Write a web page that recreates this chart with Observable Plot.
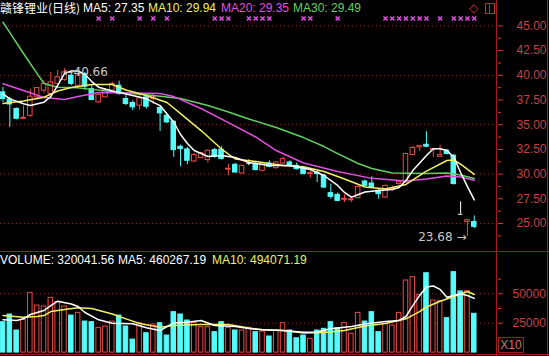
<!DOCTYPE html>
<html><head><meta charset="utf-8">
<script src="https://cdn.jsdelivr.net/npm/d3@7"></script>
<script src="https://cdn.jsdelivr.net/npm/@observablehq/plot@0.6"></script>
<style>
body{margin:0;background:#000;}
#wrap{position:relative;width:549px;height:356px;background:#000;overflow:hidden;font-family:"Liberation Sans",Arial,sans-serif;font-size:12px;}
.t{position:absolute;white-space:nowrap;line-height:14px;}
.ln{position:absolute;background:#a01e1e;}
</style></head><body>
<div id="wrap">
  <div id="price" style="position:absolute;left:0;top:0"></div>
  <div id="vol" style="position:absolute;left:0;top:252px"></div>
  <div class="ln" style="left:496px;top:0;width:1px;height:356px"></div>
  <div class="ln" style="left:547px;top:0;width:1px;height:356px"></div>
  <div class="ln" style="left:0;top:251px;width:549px;height:1px"></div>
  <div class="ln" style="left:0;top:354px;width:549px;height:1px"></div>
  <div id="hdr"></div>
</div>
<script>
// ---- data ----
const stockName = "赣锋锂业(日线)";
const maNames = ["MA5", "MA10", "MA20", "MA30"];
const maLast = [27.35, 29.94, 29.35, 29.49];
const volNames = ["VOLUME", "MA5", "MA10"];
const volLast = [320041.56, 460267.19, 494071.19];

const open  = [38.28,37.55,36.6,35.6,35.9,37.77,38.45,38.11,39.13,39.53,39.97,38.95,40.1,38.61,37.26,37.77,38.45,38.95,37.6,37.2,36.93,37.77,37.6,36.69,35.91,35.3,32.77,32.5,31.28,31.62,31.42,32.43,32.47,30.45,30.94,30.06,31.1,31.01,30.33,31.07,30.6,31.07,31.18,30.84,30.57,30.0,30.16,29.83,28.07,27.9,27.4,27.35,27.57,29.25,29.05,28.31,27.63,28.45,28.99,29.15,31.93,32.7,32.97,32.45,31.75,32.36,31.86,25.94,25.16,25.16];
const high  = [38.78,37.77,36.7,36.9,38.6,38.75,39.46,40.3,40.48,40.66,40.3,40.3,40.3,38.95,38.1,38.6,39.3,39.4,37.94,37.43,37.94,37.94,38.18,36.93,36.1,35.4,32.94,32.7,32.1,32.2,32.45,32.6,32.77,31.0,31.1,30.9,31.45,31.2,31.15,31.35,31.25,31.7,31.35,31.1,30.7,30.3,30.3,30.0,28.99,28.1,27.9,27.65,28.8,29.4,29.73,28.4,28.9,28.8,29.3,32.1,32.8,32.9,34.29,32.6,32.94,32.5,32.0,27.2,25.44,25.77];
const low   = [37.26,34.73,35.5,35.55,35.74,37.5,38.18,37.6,38.97,39.4,38.95,38.8,38.45,37.43,37.2,37.7,38.3,38.0,36.93,36.42,36.49,36.6,37.03,34.32,35.1,31.7,30.74,30.95,31.2,31.55,31.1,31.6,31.42,29.83,30.1,30.0,30.85,30.35,30.25,30.65,30.5,31.0,30.7,30.4,29.95,29.6,29.15,28.55,27.46,27.2,27.12,27.1,27.5,28.7,28.55,27.46,27.55,28.25,28.9,29.1,31.85,32.3,32.7,31.68,31.68,31.95,28.9,25.94,23.68,24.48];
const close = [37.6,37.05,35.6,35.7,37.84,38.72,39.12,39.29,39.8,40.3,39.13,39.97,38.85,37.5,38.04,38.51,39.12,38.1,37.1,36.76,37.67,36.82,37.8,36.15,35.24,32.43,32.53,31.35,31.93,32.13,32.36,31.76,31.52,30.55,30.16,30.84,31.1,30.4,31.07,30.74,31.18,31.52,30.84,30.5,30.0,30.1,30.0,28.64,27.7,27.29,27.5,27.45,28.71,28.81,28.64,27.97,28.81,28.55,29.22,32.03,32.64,32.84,32.77,32.55,31.93,32.03,28.99,25.94,25.33,24.66];
const volume = [25850,32400,18800,27900,50800,40000,39200,46600,42900,39200,31500,33800,26400,25900,21100,22200,26400,31500,22200,11100,25000,16500,23900,25000,14500,34400,32400,27300,25000,21600,21600,17400,25900,21100,18800,18800,21100,17400,17900,13700,18800,25000,18800,12200,14500,11700,18800,20200,25900,20700,25000,16000,33800,26400,34400,17400,24500,23000,33800,61300,64100,49100,67500,44300,43700,29300,68400,52000,52200,33000];

const ma5Idx = [0,1,3,4,6,7,8,9,10,11,12,13,14,16,19,21,23,25,26,27,28,30,32,34,36,39,42,45,47,49,50,51,53,55,57,58,59,60,61,62,63,64,65,66,67,68,69];
const ma5Val = [38.13,37.62,37.12,36.94,37.28,37.85,38.97,40.18,40.44,40.44,40.08,39.37,38.80,38.41,37.96,37.62,36.94,35.25,34.01,33.10,32.39,31.78,31.88,31.68,31.17,30.87,30.87,30.47,29.86,28.85,28.14,27.66,28.19,28.34,28.44,28.64,29.35,30.36,31.12,31.88,32.56,32.56,32.39,31.71,30.16,28.74,27.39];
const ma10Idx = [0,3,6,8,10,13,16,18,21,24,26,29,32,34,37,41,44,47,50,53,56,59,62,65,66,67,69];
const ma10Val = [37.15,37.40,37.78,38.41,38.77,39.07,39.07,38.51,37.96,37.25,36.13,34.41,32.54,31.53,31.28,30.87,30.74,30.26,29.50,28.69,28.49,28.95,30.31,31.38,31.43,31.02,29.98];
const ma20Idx = [0,3,6,9,11,14,19,23,25,29,33,37,40,44,49,54,59,62,65,67,69];
const ma20Val = [39.14,38.46,37.75,37.55,37.85,38.26,38.21,38.16,37.85,36.64,35.22,33.76,32.39,31.12,30.26,29.57,29.30,29.50,29.81,29.71,29.38];
const ma30Idx = [0,1,3,5,6,8,11,17,22,26,30,33,36,40,44,47,49,52,54,57,62,65,67,69];
const ma30Val = [45.37,44.33,42.21,40.18,39.17,38.80,38.73,38.29,37.96,37.65,36.94,36.29,35.58,34.72,33.70,32.79,32.08,31.07,30.57,30.11,30.06,30.11,29.91,29.55];

const volMa5Idx = [0,2,3,4,6,7,8,10,11,12,14,16,19,21,23,25,27,29,31,34,36,38,41,44,46,48,51,53,56,58,59,60,61,62,63,64,65,66,67,68,69];
const volMa5Val = [27900,27300,28700,32400,35800,40000,43700,41300,39200,34100,27900,25000,24500,21100,18800,25200,25900,27300,23000,22200,20500,19400,18800,17300,17500,20200,22200,24300,26400,27300,30700,40000,48600,55800,56600,53700,47100,48600,49800,48600,46100];
const volMa10Idx = [0,3,5,6,7,9,11,13,16,18,20,23,25,29,33,36,38,41,44,47,50,53,56,59,61,62,64,66,68,69];
const volMa10Val = [31500,30100,30700,31500,34900,36600,38100,37500,32800,28700,24700,21600,23000,23900,23900,20900,19400,18800,16700,17100,18800,22600,24700,28700,34900,38800,43700,47700,52000,49400];

const signalIdx = [14,16,20,22,24,31,32,33,36,37,38,39,44,45,49,56,57,58,59,60,61,62,64,66,67,68,69];
const priceTicks = [25, 27.5, 30, 32.5, 35, 37.5, 40, 42.5, 45];
const priceMinor = [23.75, 26.25, 28.75, 31.25, 33.75, 36.25, 38.75, 41.25, 43.75];
const priceGrid = [25, 30, 35, 40, 45];
const volTicks = [25000, 50000];
const volMinor = [12500, 37500, 62500];
const notes = [{i: 9, v: 40.66, label: "←40.66", side: "start"}, {i: 68, v: 23.68, label: "23.68 →", side: "end"}];

// ---- styling ----
const WHITE = "#ffffff", YELLOW = "#f0f060", MAG = "#e050e0", GREEN = "#60d060";
const RED = "#f04848", CYAN = "#54fcfc", AXIS = "#c84040", GRID = "#8c1c1c";
const maColors = [WHITE, YELLOW, MAG, GREEN];
const HW = 0.33;

const candles = d3.range(close.length).map(i => {
  let dir = close[i] > open[i] ? "up" : close[i] < open[i] ? "down" : (i > 0 && close[i] < close[i - 1] ? "flatdown" : "flatup");
  return {i, open: open[i], high: high[i], low: low[i], close: close[i], vol: volume[i], dir};
});
const candleColor = d => d.dir === "up" ? RED : d.dir === "down" ? CYAN : WHITE;
const volColor = d => (d.dir === "up" || d.dir === "flatup") ? RED : CYAN;
const pts = (idx, val) => idx.map((i, k) => ({i, v: val[k]}));
const xOpt = {domain: [-0.366, 72.4], axis: null};
const figStyle = {background: "transparent", color: AXIS, fontSize: "12px", fontFamily: "'Liberation Sans', Arial, sans-serif", overflow: "visible"};

const price = Plot.plot({
  width: 549, height: 252, marginTop: 20, marginBottom: 4, marginLeft: 0, marginRight: 52,
  style: figStyle,
  x: xOpt,
  y: {domain: [22.47, 45.55], label: null},
  marks: [
    Plot.ruleY(priceGrid, {stroke: GRID, strokeDasharray: "1,3"}),
    Plot.axisY(priceMinor, {anchor: "right", tickSize: 3, tickFormat: () => "", label: null}),
    Plot.axisY(priceTicks, {anchor: "right", tickSize: 5, tickPadding: 14, tickFormat: d => d.toFixed(2), label: null}),
    Plot.ruleX(candles, {x: "i", y1: "low", y2: "high", stroke: candleColor}),
    Plot.rect(candles.filter(d => d.open !== d.close), {
      x1: d => d.i - HW, x2: d => d.i + HW, y1: "open", y2: "close",
      fill: d => d.dir === "up" ? "#000000" : CYAN, stroke: candleColor
    }),
    Plot.ruleY(candles.filter(d => d.open === d.close), {x1: d => d.i - HW, x2: d => d.i + HW, y: "close", stroke: WHITE}),
    Plot.line(pts(ma30Idx, ma30Val), {x: "i", y: "v", stroke: GREEN}),
    Plot.line(pts(ma20Idx, ma20Val), {x: "i", y: "v", stroke: MAG}),
    Plot.line(pts(ma10Idx, ma10Val), {x: "i", y: "v", stroke: YELLOW}),
    Plot.line(pts(ma5Idx, ma5Val), {x: "i", y: "v", stroke: WHITE}),
    Plot.dot(signalIdx, {x: d => d, frameAnchor: "top", dy: -2, symbol: "times", r: 2, stroke: MAG, strokeWidth: 1.5}),
    Plot.text(notes.filter(d => d.side === "start"), {x: "i", y: "v", text: "label", textAnchor: "start", dx: -1, dy: 3, fill: "#c8c8c8", fontSize: 12, fontFamily: "'DejaVu Sans', sans-serif"}),
    Plot.text(notes.filter(d => d.side === "end"), {x: "i", y: "v", text: "label", textAnchor: "end", dx: -1, dy: 1, fill: "#c8c8c8", fontSize: 12, fontFamily: "'DejaVu Sans', sans-serif"})
  ]
});
document.getElementById("price").appendChild(price);

const vol = Plot.plot({
  width: 549, height: 104, marginTop: 0, marginBottom: 0, marginLeft: 0, marginRight: 52,
  style: figStyle,
  x: xOpt,
  y: {domain: [-3316, 85120], label: null},
  marks: [
    Plot.ruleY(volTicks, {stroke: GRID, strokeDasharray: "1,3"}),
    Plot.axisY(volMinor, {anchor: "right", tickSize: 3, tickFormat: () => "", label: null}),
    Plot.axisY(volTicks, {anchor: "right", tickSize: 5, tickPadding: 10, tickFormat: d => String(d), label: null}),
    Plot.rect(candles, {
      x1: d => d.i - HW, x2: d => d.i + HW, y1: 0, y2: "vol",
      fill: d => volColor(d) === RED ? "#000000" : CYAN, stroke: volColor
    }),
    Plot.line(pts(volMa10Idx, volMa10Val), {x: "i", y: "v", stroke: YELLOW}),
    Plot.line(pts(volMa5Idx, volMa5Val), {x: "i", y: "v", stroke: WHITE})
  ]
});
document.getElementById("vol").appendChild(vol);

// ---- header texts ----
const hdr = document.getElementById("hdr");
function addText(txt, left, top, color, extra) {
  const s = document.createElement("div");
  s.className = "t";
  s.textContent = txt;
  s.style.left = left + "px";
  s.style.top = top + "px";
  s.style.color = color;
  if (extra) Object.assign(s.style, extra);
  hdr.appendChild(s);
}
addText(stockName, 0, 1, WHITE, {fontFamily: "'Noto Sans CJK SC', sans-serif", lineHeight: "13px"});
const maLeft = [83, 148, 221, 293];
maNames.forEach((m, k) => addText(m + ": " + maLast[k].toFixed(2), maLeft[k], 1, maColors[k]));
const volLeft = [0, 118, 212];
const volColors = [WHITE, WHITE, YELLOW];
volNames.forEach((m, k) => addText(m + ": " + volLast[k].toFixed(2), volLeft[k], 253, volColors[k]));
addText("◇", 469, 1, "#d03030", {fontSize: "12px"});
const box = document.createElement("div");
Object.assign(box.style, {position: "absolute", left: "485px", top: "3px", width: "8px", height: "9px", border: "1px solid #c03030"});
const mid = document.createElement("div");
Object.assign(mid.style, {position: "absolute", left: "3px", top: "0", width: "1px", height: "9px", background: "#c03030"});
box.appendChild(mid);
hdr.appendChild(box);
const xb = document.createElement("div");
xb.className = "t";
xb.textContent = "X10";
Object.assign(xb.style, {left: "498px", top: "337px", width: "24px", height: "14px", border: "1px solid #a01e1e", color: "#d07070", textAlign: "center", lineHeight: "14px"});
hdr.appendChild(xb);
</script>
</body></html>
